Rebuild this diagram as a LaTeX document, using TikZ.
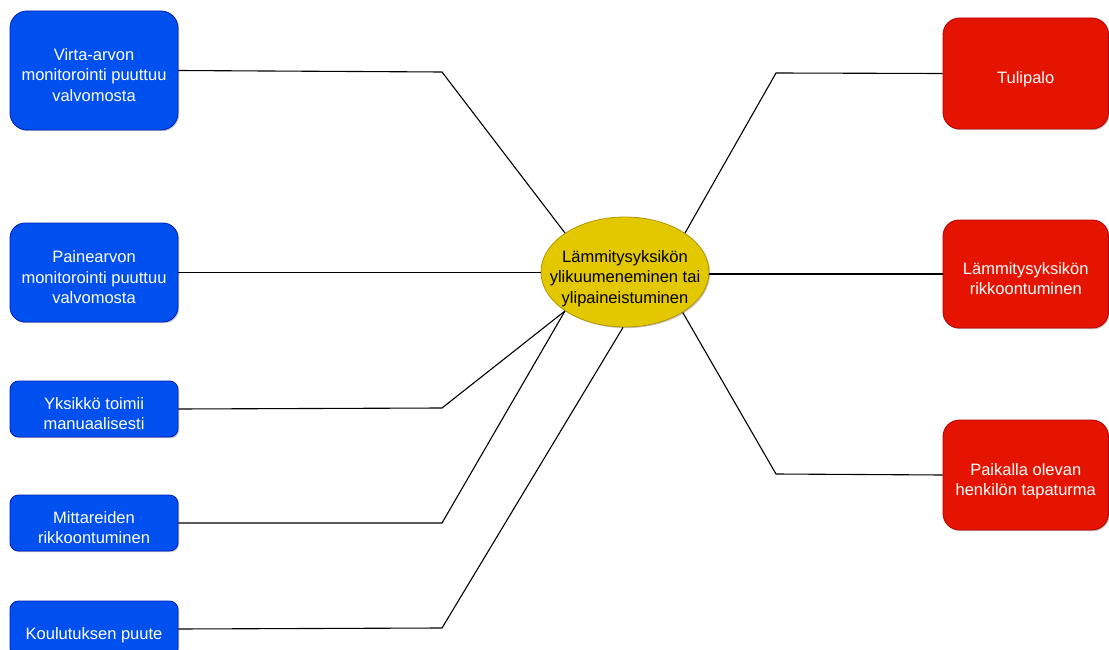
\documentclass[tikz,border=0pt]{standalone}
\usepackage{fontspec}
\setmainfont{Liberation Sans}
\usetikzlibrary{shapes.geometric,shadows}

\definecolor{causefill}{HTML}{0050EF}
\definecolor{causeline}{HTML}{001DBC}
\definecolor{effectfill}{HTML}{E51400}
\definecolor{effectline}{HTML}{B20000}
\definecolor{eventfill}{HTML}{E3C800}
\definecolor{eventline}{HTML}{B09500}

% uniform line boxes: tall first line, fixed depth on the last one
\newcommand\firstln{\rule{0pt}{26pt}}
\newcommand\lastln{\rule[-5pt]{0pt}{0pt}}

\tikzset{
  boxtext/.style={font=\fontsize{16.5}{20.5}\selectfont, align=center, inner sep=0pt},
  softshadow/.style={drop shadow={shadow xshift=1.2pt, shadow yshift=-1.2pt,
    opacity=0.22, fill=black}},
  cause/.style={boxtext, rectangle, draw=causeline, fill=causefill, text=white,
    minimum width=168pt, line width=0.8pt, softshadow},
  effect/.style={boxtext, rectangle, draw=effectline, fill=effectfill, text=white,
    minimum width=165.5pt, line width=0.8pt, softshadow},
  event/.style={boxtext, ellipse, draw=eventline, fill=eventfill, text=black,
    inner xsep=-20pt, inner ysep=0pt,
    minimum width=168pt, minimum height=110pt, line width=0.8pt, softshadow},
  link/.style={draw=black, line width=1.1pt}
}

\begin{document}
\begin{tikzpicture}[x=1pt, y=-1pt]
  \useasboundingbox (0,0) rectangle (1109,650);

  % central event
  \node[event] (e) at (625,272)
    {\firstln Lämmitysyksikön\\ylikuumeneminen tai\\ylipaineistuminen\lastln};

  % causes (left)
  \node[cause, minimum height=119pt, rounded corners=17pt] (c1) at (94,70.5)
    {\firstln Virta-arvon\\monitorointi puuttuu\\valvomosta\lastln};
  \node[cause, minimum height=99pt, rounded corners=15pt] (c2) at (94,272.5)
    {\firstln Painearvon\\monitorointi puuttuu\\valvomosta\lastln};
  \node[cause, minimum height=56pt, rounded corners=8.5pt] (c3) at (94,409)
    {\firstln Yksikkö toimii\\manuaalisesti\lastln};
  \node[cause, minimum height=56pt, rounded corners=8.5pt] (c4) at (94,523)
    {\firstln Mittareiden\\rikkoontuminen\lastln};
  \node[cause, minimum height=56pt, rounded corners=8.5pt] (c5) at (94,629)
    {\firstln Koulutuksen puute\lastln};

  % consequences (right)
  \node[effect, minimum height=111pt, rounded corners=16.5pt] (r1) at (1025.75,73.5)
    {\firstln Tulipalo\lastln};
  \node[effect, minimum height=108pt, rounded corners=16pt] (r2) at (1025.75,274)
    {\firstln Lämmitysyksikön\\rikkoontuminen\lastln};
  \node[effect, minimum height=110pt, rounded corners=16.5pt] (r3) at (1025.75,475)
    {\firstln Paikalla olevan\\henkilön tapaturma\lastln};

  % bend points
  \coordinate (k1) at (442,72);
  \coordinate (k3) at (442,408);
  \coordinate (k4) at (442,523);
  \coordinate (k5) at (442,628);
  \coordinate (q1) at (776,73);
  \coordinate (q3) at (776,474);

  % connectors
  \draw[link] (c1.east) -- (k1) -- (e.147);
  \draw[link] (c2.east) -- (c2.east -| e.west);
  \draw[link] (c3.east) -- (k3) -- (e.213.7);
  \draw[link] (c4.east) -- (k4) -- (e.213.7);
  \draw[link] (c5.east) -- (k5) -- (e.268);
  \draw[link] (r1.west) -- (q1) -- (e.33.5);
  \draw[link] (r2.west) -- (r2.west -| e.east);
  \draw[link] (r3.west) -- (q3) -- (e.325.9);
\end{tikzpicture}
\end{document}
